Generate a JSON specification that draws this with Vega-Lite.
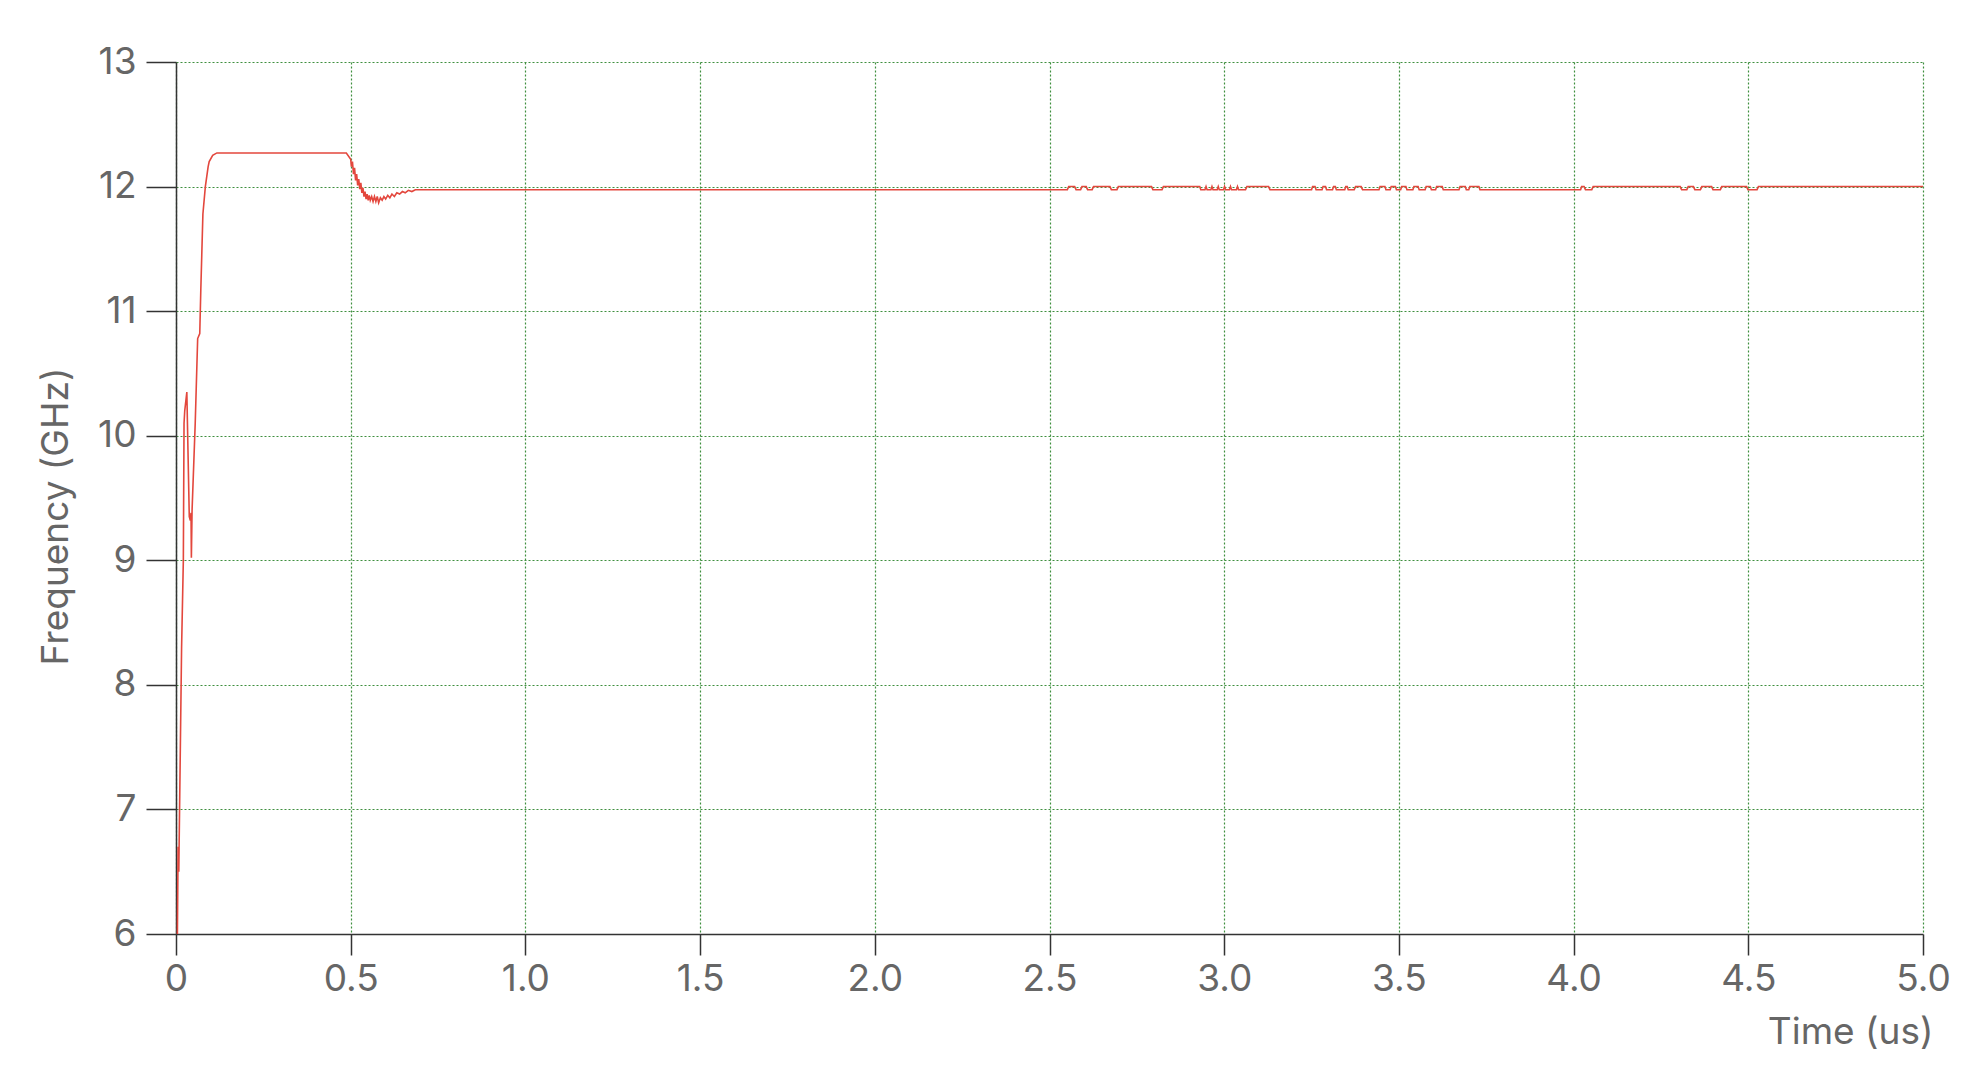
{
  "$schema": "https://vega.github.io/schema/vega-lite/v6.json",
  "width": 1747,
  "height": 872,
  "autosize": "none",
  "padding": {"left": 176, "top": 62, "right": 61, "bottom": 138},
  "background": "white",
  "config": {
    "view": {"stroke": null},
    "font": "Inter"
  },
  "data": {
    "values": [
      {"time": 0.004, "freq": 6.0},
      {"time": 0.006, "freq": 6.7},
      {"time": 0.008, "freq": 6.5},
      {"time": 0.016, "freq": 8.3},
      {"time": 0.021, "freq": 9.0},
      {"time": 0.023, "freq": 10.1},
      {"time": 0.025, "freq": 10.2},
      {"time": 0.031, "freq": 10.35},
      {"time": 0.038, "freq": 9.35},
      {"time": 0.041, "freq": 9.32},
      {"time": 0.043, "freq": 9.38},
      {"time": 0.044, "freq": 9.02},
      {"time": 0.046, "freq": 9.4},
      {"time": 0.055, "freq": 10.1},
      {"time": 0.062, "freq": 10.78},
      {"time": 0.068, "freq": 10.82},
      {"time": 0.071, "freq": 11.17},
      {"time": 0.077, "freq": 11.78},
      {"time": 0.084, "freq": 12.0},
      {"time": 0.092, "freq": 12.16},
      {"time": 0.095, "freq": 12.2},
      {"time": 0.105, "freq": 12.25},
      {"time": 0.117, "freq": 12.27},
      {"time": 0.4875, "freq": 12.27},
      {"time": 0.5, "freq": 12.22},
      {"time": 0.502, "freq": 12.16},
      {"time": 0.505, "freq": 12.2},
      {"time": 0.508, "freq": 12.1},
      {"time": 0.511, "freq": 12.15},
      {"time": 0.514, "freq": 12.05},
      {"time": 0.517, "freq": 12.1},
      {"time": 0.52, "freq": 12.01},
      {"time": 0.523, "freq": 12.06},
      {"time": 0.526, "freq": 11.98},
      {"time": 0.529, "freq": 12.03},
      {"time": 0.532, "freq": 11.95},
      {"time": 0.535, "freq": 11.99},
      {"time": 0.538, "freq": 11.92},
      {"time": 0.541, "freq": 11.96},
      {"time": 0.544, "freq": 11.9},
      {"time": 0.547, "freq": 11.94},
      {"time": 0.55, "freq": 11.89},
      {"time": 0.553, "freq": 11.93},
      {"time": 0.556, "freq": 11.89},
      {"time": 0.56, "freq": 11.92},
      {"time": 0.564, "freq": 11.88},
      {"time": 0.568, "freq": 11.92},
      {"time": 0.572, "freq": 11.88},
      {"time": 0.576, "freq": 11.92},
      {"time": 0.58, "freq": 11.87},
      {"time": 0.585, "freq": 11.91},
      {"time": 0.59, "freq": 11.89},
      {"time": 0.595, "freq": 11.92},
      {"time": 0.6, "freq": 11.9},
      {"time": 0.606, "freq": 11.93},
      {"time": 0.612, "freq": 11.91},
      {"time": 0.618, "freq": 11.94},
      {"time": 0.625, "freq": 11.92},
      {"time": 0.632, "freq": 11.95},
      {"time": 0.64, "freq": 11.94},
      {"time": 0.648, "freq": 11.96},
      {"time": 0.656, "freq": 11.95},
      {"time": 0.665, "freq": 11.97},
      {"time": 0.675, "freq": 11.96},
      {"time": 0.685, "freq": 11.975},
      {"time": 0.695, "freq": 11.975},
      {"time": 2.551, "freq": 11.975},
      {"time": 2.555, "freq": 12.0},
      {"time": 2.572, "freq": 12.0},
      {"time": 2.576, "freq": 11.975},
      {"time": 2.589, "freq": 11.975},
      {"time": 2.593, "freq": 12.0},
      {"time": 2.605, "freq": 12.0},
      {"time": 2.609, "freq": 11.975},
      {"time": 2.622, "freq": 11.975},
      {"time": 2.626, "freq": 12.0},
      {"time": 2.673, "freq": 12.0},
      {"time": 2.677, "freq": 11.975},
      {"time": 2.693, "freq": 11.975},
      {"time": 2.697, "freq": 12.0},
      {"time": 2.792, "freq": 12.0},
      {"time": 2.796, "freq": 11.975},
      {"time": 2.822, "freq": 11.975},
      {"time": 2.826, "freq": 12.0},
      {"time": 2.93, "freq": 12.0},
      {"time": 2.933, "freq": 11.975},
      {"time": 2.945, "freq": 11.975},
      {"time": 2.948, "freq": 12.0},
      {"time": 2.951, "freq": 11.975},
      {"time": 2.962, "freq": 11.975},
      {"time": 2.965, "freq": 12.0},
      {"time": 2.968, "freq": 11.975},
      {"time": 2.98, "freq": 11.975},
      {"time": 2.983, "freq": 12.0},
      {"time": 2.986, "freq": 11.975},
      {"time": 2.998, "freq": 11.975},
      {"time": 3.001, "freq": 12.0},
      {"time": 3.004, "freq": 11.975},
      {"time": 3.015, "freq": 11.975},
      {"time": 3.018, "freq": 12.0},
      {"time": 3.021, "freq": 11.975},
      {"time": 3.035, "freq": 11.975},
      {"time": 3.038, "freq": 12.0},
      {"time": 3.041, "freq": 11.975},
      {"time": 3.061, "freq": 11.975},
      {"time": 3.065, "freq": 12.0},
      {"time": 3.127, "freq": 12.0},
      {"time": 3.131, "freq": 11.975},
      {"time": 3.25, "freq": 11.975},
      {"time": 3.253, "freq": 12.0},
      {"time": 3.26, "freq": 12.0},
      {"time": 3.263, "freq": 11.975},
      {"time": 3.28, "freq": 11.975},
      {"time": 3.283, "freq": 12.0},
      {"time": 3.29, "freq": 12.0},
      {"time": 3.293, "freq": 11.975},
      {"time": 3.31, "freq": 11.975},
      {"time": 3.313, "freq": 12.0},
      {"time": 3.318, "freq": 12.0},
      {"time": 3.321, "freq": 11.975},
      {"time": 3.345, "freq": 11.975},
      {"time": 3.348, "freq": 12.0},
      {"time": 3.352, "freq": 12.0},
      {"time": 3.355, "freq": 11.975},
      {"time": 3.372, "freq": 11.975},
      {"time": 3.376, "freq": 12.0},
      {"time": 3.392, "freq": 12.0},
      {"time": 3.396, "freq": 11.975},
      {"time": 3.443, "freq": 11.975},
      {"time": 3.446, "freq": 12.0},
      {"time": 3.46, "freq": 12.0},
      {"time": 3.463, "freq": 11.975},
      {"time": 3.475, "freq": 11.975},
      {"time": 3.478, "freq": 12.0},
      {"time": 3.49, "freq": 12.0},
      {"time": 3.493, "freq": 11.975},
      {"time": 3.505, "freq": 11.975},
      {"time": 3.508, "freq": 12.0},
      {"time": 3.52, "freq": 12.0},
      {"time": 3.523, "freq": 11.975},
      {"time": 3.54, "freq": 11.975},
      {"time": 3.543, "freq": 12.0},
      {"time": 3.555, "freq": 12.0},
      {"time": 3.558, "freq": 11.975},
      {"time": 3.575, "freq": 11.975},
      {"time": 3.578, "freq": 12.0},
      {"time": 3.59, "freq": 12.0},
      {"time": 3.593, "freq": 11.975},
      {"time": 3.605, "freq": 11.975},
      {"time": 3.608, "freq": 12.0},
      {"time": 3.624, "freq": 12.0},
      {"time": 3.627, "freq": 11.975},
      {"time": 3.672, "freq": 11.975},
      {"time": 3.675, "freq": 12.0},
      {"time": 3.69, "freq": 12.0},
      {"time": 3.693, "freq": 11.975},
      {"time": 3.7, "freq": 11.975},
      {"time": 3.703, "freq": 12.0},
      {"time": 3.729, "freq": 12.0},
      {"time": 3.732, "freq": 11.975},
      {"time": 4.02, "freq": 11.975},
      {"time": 4.023, "freq": 12.0},
      {"time": 4.03, "freq": 12.0},
      {"time": 4.034, "freq": 11.975},
      {"time": 4.052, "freq": 11.975},
      {"time": 4.056, "freq": 12.0},
      {"time": 4.305, "freq": 12.0},
      {"time": 4.309, "freq": 11.975},
      {"time": 4.324, "freq": 11.975},
      {"time": 4.328, "freq": 12.0},
      {"time": 4.343, "freq": 12.0},
      {"time": 4.347, "freq": 11.975},
      {"time": 4.363, "freq": 11.975},
      {"time": 4.367, "freq": 12.0},
      {"time": 4.395, "freq": 12.0},
      {"time": 4.399, "freq": 11.975},
      {"time": 4.42, "freq": 11.975},
      {"time": 4.424, "freq": 12.0},
      {"time": 4.495, "freq": 12.0},
      {"time": 4.499, "freq": 11.975},
      {"time": 4.525, "freq": 11.975},
      {"time": 4.529, "freq": 12.0},
      {"time": 5.0, "freq": 12.0}
    ]
  },
  "mark": {"type": "line", "color": "#e3473d", "strokeWidth": 1.6, "clip": true},
  "encoding": {
    "x": {
      "field": "time",
      "type": "quantitative",
      "title": "Time (us)",
      "scale": {"domain": [0, 5], "nice": false, "zero": false},
      "axis": {
        "values": [0, 0.5, 1, 1.5, 2, 2.5, 3, 3.5, 4, 4.5, 5],
        "labelExpr": "datum.value == 0 ? '0' : format(datum.value, '.1f')",
        "grid": true,
        "gridColor": "#3f8f3f",
        "gridDash": [2, 2],
        "gridWidth": 1.2,
        "domainColor": "#333333",
        "domainWidth": 1.5,
        "tickColor": "#333333",
        "tickWidth": 1.5,
        "tickSize": 21,
        "labelFontSize": 37,
        "labelColor": "#666666",
        "labelPadding": 6,
        "labelFlush": false,
        "titleFontSize": 37,
        "titleFontWeight": "normal",
        "titleColor": "#666666",
        "titleAnchor": "end",
        "titleAlign": "right",
        "titleBaseline": "alphabetic",
        "titleX": 1757,
        "titleY": 109
      }
    },
    "y": {
      "field": "freq",
      "type": "quantitative",
      "title": "Frequency (GHz)",
      "scale": {"domain": [6, 13], "nice": false, "zero": false},
      "axis": {
        "values": [6, 7, 8, 9, 10, 11, 12, 13],
        "grid": true,
        "gridColor": "#3f8f3f",
        "gridDash": [2, 2],
        "gridWidth": 1.2,
        "domainColor": "#333333",
        "domainWidth": 1.5,
        "tickColor": "#333333",
        "tickWidth": 1.5,
        "tickSize": 30,
        "labelFontSize": 37,
        "labelColor": "#666666",
        "labelPadding": 10,
        "labelFlush": false,
        "titleFontSize": 37,
        "titleFontWeight": "normal",
        "titleColor": "#666666",
        "titleAngle": -90,
        "titleAlign": "center",
        "titleBaseline": "alphabetic",
        "titleX": -109,
        "titleY": 454
      }
    }
  }
}
